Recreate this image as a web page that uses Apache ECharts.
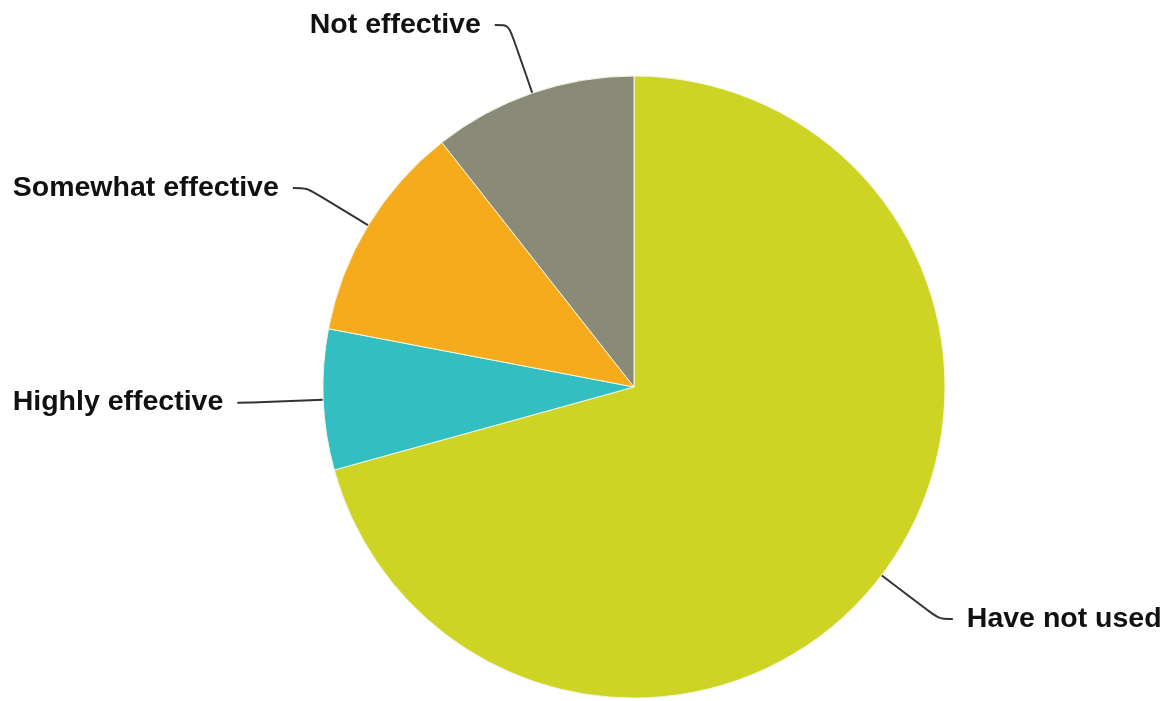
<!DOCTYPE html>
<html>
<head>
<meta charset="utf-8">
<script src="https://cdn.jsdelivr.net/npm/echarts@6/dist/echarts.min.js"></script>
<style>
html,body{margin:0;padding:0;background:#fff;}
#chart{width:1171px;height:701px;}
</style>
</head>
<body>
<div id="chart"></div>
<script>
const categories = ['Have not used', 'Highly effective', 'Somewhat effective', 'Not effective'];
const values = [70.7, 7.3, 11.4, 10.6];
const colors = ['#cdd424', '#33bec2', '#f5ab1c', '#898a78'];

const chart = echarts.init(document.getElementById('chart'));
chart.setOption({
  animation: false,
  backgroundColor: '#ffffff',
  series: [{
    type: 'pie',
    center: [634, 387],
    radius: 311,
    startAngle: 90,
    clockwise: true,
    avoidLabelOverlap: false,
    data: categories.map((c, i) => ({ name: c, value: values[i], itemStyle: { color: colors[i] } })),
    itemStyle: { borderColor: '#f4f6e0', borderWidth: 1 },
    label: {
      show: true,
      position: 'outside',
      formatter: '{b}',
      fontFamily: 'Liberation Sans, Arial, sans-serif',
      fontWeight: 'bold',
      fontSize: 28.5,
      color: '#111111',
      distanceToLabelLine: 14
    },
    labelLine: {
      show: true,
      length: 72,
      length2: 14,
      smooth: 0.3,
      lineStyle: { color: '#333333', width: 2 }
    },
    emphasis: { disabled: true }
  }]
});
</script>
</body>
</html>
